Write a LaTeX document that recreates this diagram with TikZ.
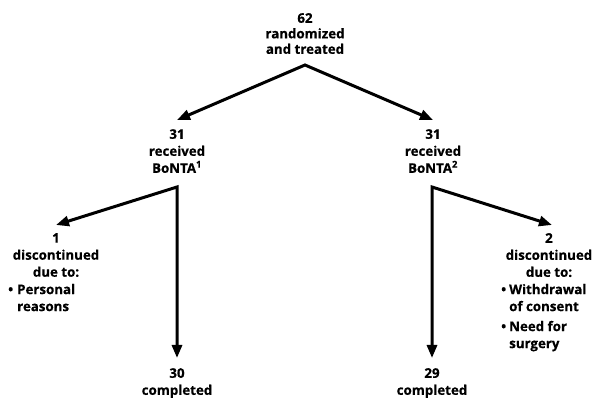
\documentclass[tikz,border=0pt]{standalone}
\usepackage{fontspec}
\setmainfont{Open Sans}[BoldFeatures={FakeBold=0.5}]
\usetikzlibrary{arrows.meta,positioning}

\tikzset{
  txt/.style={font=\bfseries\fontsize{13.3}{17}\selectfont, align=center, inner sep=0pt},
  why/.style={font=\bfseries\fontsize{13.3}{17}\selectfont, inner sep=0pt, anchor=north west},
  arr/.style={line width=3pt, {Triangle[length=13pt,width=10pt]}-{Triangle[length=13pt,width=10pt]}}
}

\begin{document}
\begin{tikzpicture}[x=1pt,y=-1pt]
\useasboundingbox (0,0) rectangle (595,398);

\node[txt, anchor=north, font=\bfseries\fontsize{13.3}{15.5}\selectfont] (rand) at (305,13) {62\\randomized\\and treated};
\node[txt, anchor=north] (grpa) at (177,129) {31\\received\\BoNTA\textsuperscript{1}};
\node[txt, anchor=north] (grpb) at (433,129) {31\\received\\BoNTA\textsuperscript{2}};

\node[txt, anchor=north] (disca) at (56,233) {1\\discontinued\\due to:};
\node[why] (whya) at (8,282) {\begin{tabular}{@{}l@{\hspace{4pt}}l@{}}\textbullet & Personal\\ & reasons\end{tabular}};
\node[txt, anchor=north] (discb) at (549,233) {2\\discontinued\\due to:};
\node[why] (whyb) at (501,282) {\begin{tabular}{@{}l@{\hspace{3pt}}l@{}}\textbullet & Withdrawal\\ & of consent\\[3pt] \textbullet & Need for\\ & surgery\end{tabular}};

\node[txt, anchor=north] (donea) at (177,368) {30\\completed};
\node[txt, anchor=north] (doneb) at (432,368) {29\\completed};

\coordinate (apex) at (305,65);
\coordinate (cornera) at (177,187);
\coordinate (cornerb) at (432,187);

\draw[arr] ([yshift=9pt]grpa.north) -- (apex) -- ([yshift=9pt]grpb.north);
\draw[arr] ([yshift=8pt]disca.north) -- (cornera) -- ([yshift=10pt]donea.north);
\draw[arr] ([yshift=10pt]doneb.north) -- (cornerb) -- ([xshift=3pt,yshift=8pt]discb.north);

\end{tikzpicture}
\end{document}
